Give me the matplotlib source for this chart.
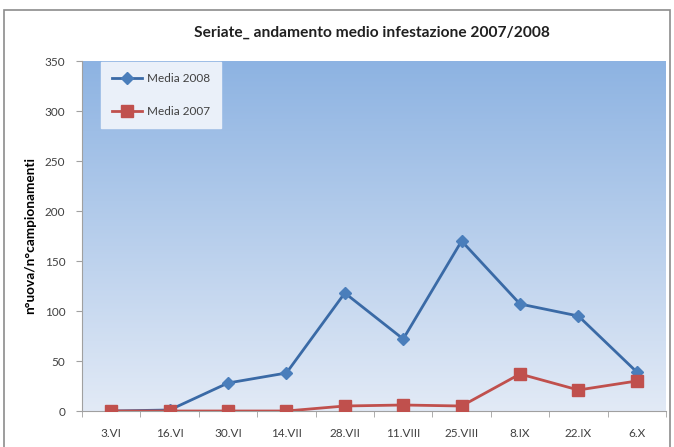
import matplotlib.pyplot as plt
import numpy as np
from matplotlib.patches import Rectangle

dates = ["3.VI", "16.VI", "30.VI", "14.VII", "28.VII", "11.VIII", "25.VIII", "8.IX", "22.IX", "6.X"]
media_2008 = [0, 1, 28, 38, 118, 72, 170, 107, 95, 39]
media_2007 = [0, 0, 0, 0, 5, 6, 5, 37, 21, 30]
y_ticks = [0, 50, 100, 150, 200, 250, 300, 350]

plt.rcParams["font.family"] = ["Lato", "DejaVu Sans"]

W, H = 674, 447
fig = plt.figure(figsize=(W / 100, H / 100), dpi=100)

# outer chart border
fig.patches.append(Rectangle((4 / W, -0.01), 666 / W, 1 - 10 / H + 0.01,
                             transform=fig.transFigure, fill=False,
                             edgecolor="#8c8c8c", linewidth=1.2))

left, right, top, bottom = 82, 666, 61, 411
ax = fig.add_axes([left / W, 1 - bottom / H, (right - left) / W, (bottom - top) / H])

x = np.arange(len(dates))
ax.set_xlim(-0.5, len(dates) - 0.5)
ax.set_ylim(0, 350)

# vertical gradient background
grad = np.linspace(0, 1, 256).reshape(-1, 1)
top_c = np.array([0x8d, 0xb3, 0xe2]) / 255
bot_c = np.array([0xe2, 0xea, 0xf6]) / 255
img = top_c * (1 - grad[..., None]) + bot_c * grad[..., None]
img = img.reshape(256, 1, 3)
ax.imshow(img, extent=(-0.5, len(dates) - 0.5, 0, 350), aspect="auto",
          origin="upper", zorder=0)

ax.plot(x, media_2008, color="#3a6aa6", linewidth=2.0, marker="D", markersize=6,
        markerfacecolor="#4a7ebb", markeredgecolor="#4a7ebb", label="Media 2008", zorder=3)
ax.plot(x, media_2007, color="#c0504d", linewidth=2.0, marker="s", markersize=8,
        markerfacecolor="#c0504d", markeredgecolor="#c0504d", label="Media 2007", zorder=3)

ax.set_yticks(y_ticks)
ax.set_xticks(x)
ax.set_xticklabels(dates)
ax.set_xticks(np.arange(-0.5, len(dates), 1), minor=True)
ax.tick_params(axis="x", which="major", length=0, pad=12, labelsize=8.5, labelcolor="#404040")
ax.tick_params(axis="x", which="minor", length=4, color="#a0a0a0", direction="out")
ax.tick_params(axis="y", length=4, color="#a0a0a0", labelsize=8.5, labelcolor="#404040", pad=8)
for s in ["top", "right"]:
    ax.spines[s].set_visible(False)
for s in ["left", "bottom"]:
    ax.spines[s].set_color("#a0a0a0")

ax.set_ylabel("n°uova/n°campionamenti", fontsize=9.8, fontweight="bold", labelpad=6)
ax.yaxis.label.set_y(0.5)

leg = ax.legend(loc="upper left", bbox_to_anchor=(19 / 584, 0.997), frameon=True,
                fontsize=8.5, handlelength=2.6, handletextpad=0.4, labelspacing=1.9,
                borderpad=0.9, borderaxespad=0, fancybox=False, framealpha=1)
leg.get_frame().set_facecolor("#eaf0f9")
leg.get_frame().set_edgecolor("#eaf0f9")
for t in leg.get_texts():
    t.set_color("#404040")

fig.text(372 / W, 1 - 33 / H, "Seriate_ andamento medio infestazione 2007/2008",
         ha="center", va="center", fontsize=11.2, fontweight="bold", color="#202020")

fig.savefig("out.png", dpi=100)
